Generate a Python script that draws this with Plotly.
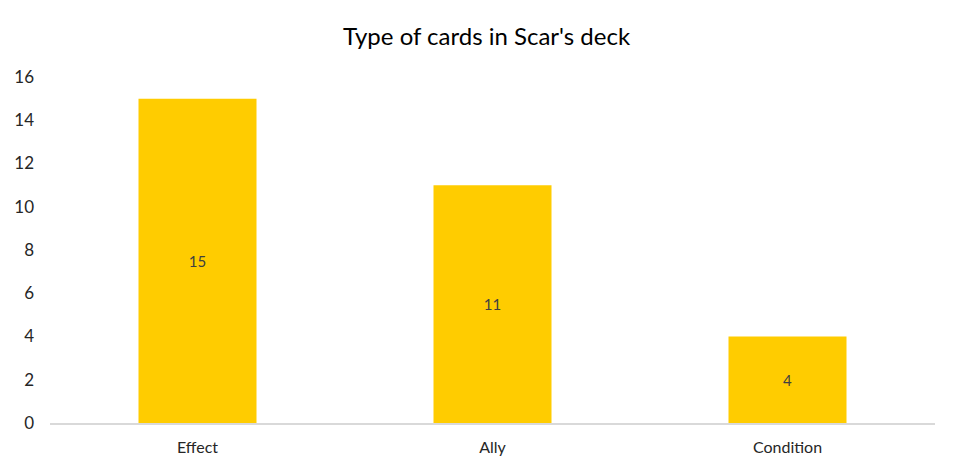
import plotly.graph_objects as go

# 数据
categories = ['Effect', 'Ally', 'Condition']
counts = [15, 11, 4]
y_ticks = [0, 2, 4, 6, 8, 10, 12, 14, 16]

fig = go.Figure(go.Bar(
    x=categories,
    y=counts,
    text=counts,
    textposition='inside',
    insidetextanchor='middle',
    textfont=dict(size=15, color='#404040'),
    marker=dict(color='#FFCC00', line=dict(width=0)),
    width=0.4,
))

# 页面有 8px 的 body 边距，所以边距往回调
fig.update_layout(
    width=957, height=472,
    margin=dict(l=42, r=30, t=69, b=57),
    paper_bgcolor='white', plot_bgcolor='white',
    font=dict(family='Lato, Open Sans, sans-serif', color='#595959'),
    title=dict(text="Type of cards in Scar's deck", x=0.5, xanchor='center',
               y=0.939, yanchor='middle', font=dict(size=24, color='#000000')),
    showlegend=False,
    xaxis=dict(showline=True, linecolor='#D9D9D9', linewidth=2, automargin=False,
               tickfont=dict(size=16, color='#262626'), ticks='', ticklabelstandoff=9),
    yaxis=dict(range=[0, 16], tickvals=y_ticks, showgrid=False, zeroline=False,
               automargin=False,
               tickfont=dict(size=17, color='#262626'), ticks='', ticklabelstandoff=15),
)

fig.write_html("out.html")
